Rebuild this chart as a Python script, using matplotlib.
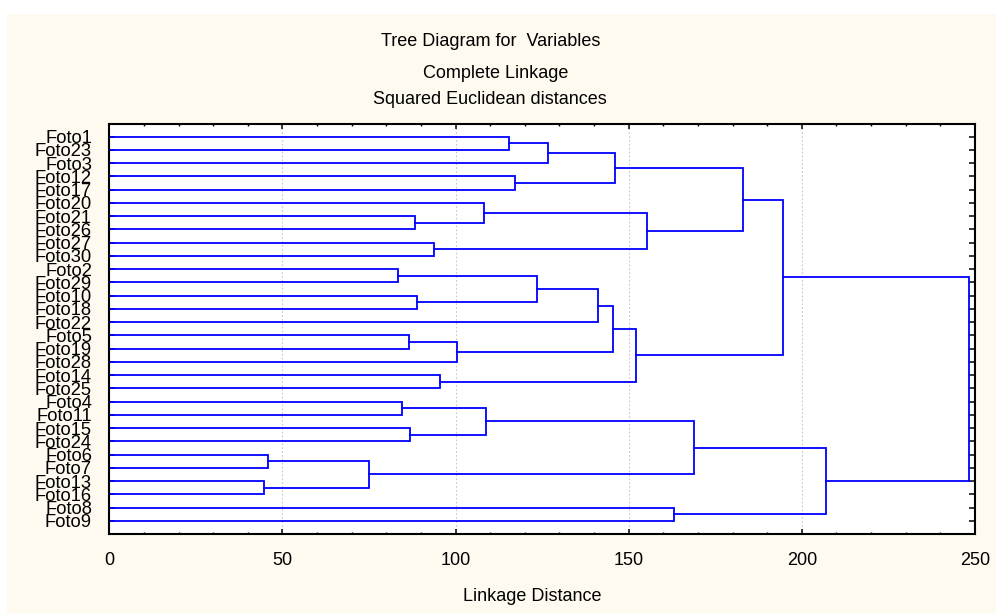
import matplotlib
matplotlib.use("Agg")
import matplotlib.pyplot as plt
from matplotlib.patches import Rectangle
from matplotlib.ticker import MultipleLocator

# leaves, top to bottom
leaves = ['Foto1', 'Foto23', 'Foto3', 'Foto12', 'Foto17', 'Foto20', 'Foto21', 'Foto26',
          'Foto27', 'Foto30', 'Foto2', 'Foto29', 'Foto10', 'Foto18', 'Foto22', 'Foto5',
          'Foto19', 'Foto28', 'Foto14', 'Foto25', 'Foto4', 'Foto11', 'Foto15', 'Foto24',
          'Foto6', 'Foto7', 'Foto13', 'Foto16', 'Foto8', 'Foto9']

# merges: a string is a leaf, an int is an earlier merge
merge_a = ['Foto1', 0, 'Foto12', 1, 'Foto21', 'Foto20', 'Foto27', 5, 3,
           'Foto2', 'Foto10', 9, 11, 'Foto5', 13, 12, 'Foto14', 15, 8,
           'Foto4', 'Foto15', 19, 'Foto6', 'Foto13', 22, 21, 'Foto8', 25, 18]
merge_b = ['Foto23', 'Foto3', 'Foto17', 2, 'Foto26', 4, 'Foto30', 6, 7,
           'Foto29', 'Foto18', 10, 'Foto22', 'Foto19', 'Foto28', 14, 'Foto25', 16, 17,
           'Foto11', 'Foto24', 20, 'Foto7', 'Foto16', 23, 24, 'Foto9', 26, 27]
merge_dist = [115.5, 126.7, 117.3, 145.9, 88.4, 108.1, 93.7, 155.2, 182.9,
              83.3, 88.9, 123.4, 141.0, 86.6, 100.3, 145.6, 95.5, 152.1, 194.6,
              84.4, 86.8, 108.8, 45.9, 44.7, 75.1, 168.9, 163.1, 207.0, 248.2]

plt.rcParams['font.family'] = ['Liberation Sans', 'DejaVu Sans']

fig = plt.figure(figsize=(9.96, 6.13), dpi=100, facecolor='white')
fig.patches.append(Rectangle((7 / 996, 0), 1, 1 - 14 / 613, transform=fig.transFigure,
                             facecolor='#FFFAEF', edgecolor='none', zorder=-10))
ax = fig.add_axes([109.3 / 996, 1 - 534 / 613, (975 - 109.3) / 996, 410 / 613])
ax.set_facecolor('white')

pos = {}
dist = {}
for i, name in enumerate(leaves):
    pos[name] = i + 1
    dist[name] = 0.0

for k in range(len(merge_dist)):
    a, b, d = merge_a[k], merge_b[k], merge_dist[k]
    ax.plot([dist[a], d, d, dist[b]], [pos[a], pos[a], pos[b], pos[b]],
            color='#0000FF', linewidth=1.3, solid_joinstyle='miter')
    pos[k] = (pos[a] + pos[b]) / 2
    dist[k] = d

ax.set_xlim(0, 250)
ax.set_ylim(31, 0.04)
ax.set_yticks(range(1, len(leaves) + 1))
ax.set_yticklabels(leaves, fontsize=13.2)
ax.xaxis.set_major_locator(MultipleLocator(50))
ax.xaxis.set_minor_locator(MultipleLocator(10))
ax.tick_params(axis='x', labelsize=13)

ax.tick_params(axis='x', which='major', direction='in', top=True, length=3.5, width=1.1, pad=13)
ax.tick_params(axis='x', which='minor', direction='in', top=True, length=1.6, width=1.0)
ax.tick_params(axis='y', which='major', direction='in', right=True, length=4, width=1.1, pad=12.5)
ax.tick_params(axis='y', which='minor', left=False, right=False)

for x in [50, 100, 150, 200]:
    ax.axvline(x, color='#C8C8C8', linewidth=0.8, linestyle=(0, (1.5, 2)), zorder=0)

for s in ax.spines.values():
    s.set_linewidth(1.5)

fig.text(491 / 996, 1 - 41.7 / 613, 'Tree Diagram for  Variables', ha='center', va='center', fontsize=13)
fig.text(495.7 / 996, 1 - 73.3 / 613, 'Complete Linkage', ha='center', va='center', fontsize=13)
fig.text(490 / 996, 1 - 99 / 613, 'Squared Euclidean distances', ha='center', va='center', fontsize=13)
fig.text(532 / 996, 1 - 596.7 / 613, 'Linkage Distance', ha='center', va='center', fontsize=13)

plt.savefig('out.png', dpi=100, facecolor=fig.get_facecolor())
